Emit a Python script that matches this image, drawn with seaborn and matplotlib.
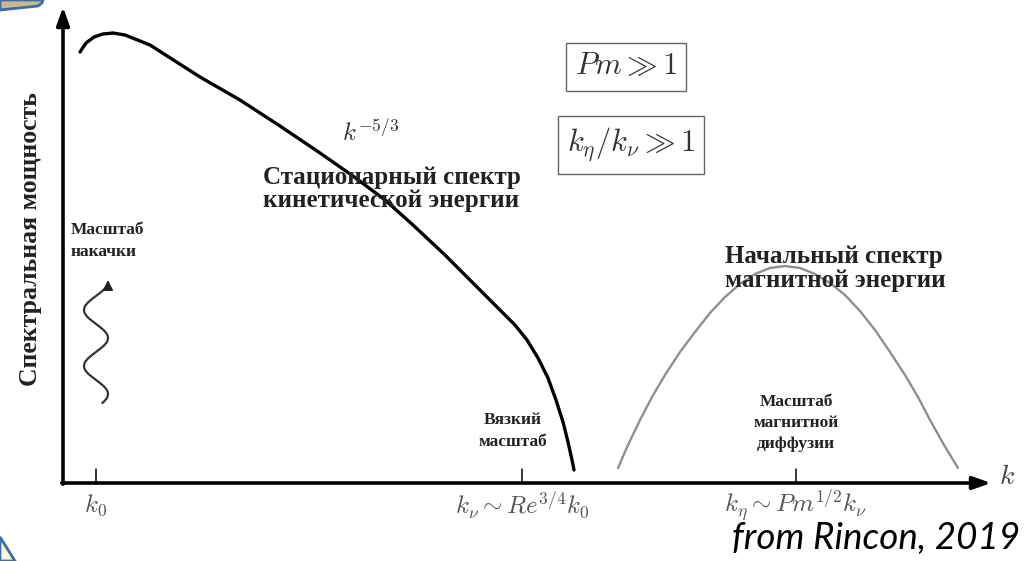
import numpy as np
import matplotlib
matplotlib.use("Agg")
import matplotlib.pyplot as plt
from matplotlib.patches import Polygon
import seaborn as sns

# Schematic spectra (k along the horizontal axis, spectral power upward)
kinetic_k = [1.7, 2.3, 3.1, 4.0, 5.0, 6.2, 8.7, 11.2, 13.7, 17.7, 21.7, 25.7,
             29.0, 32.2, 35.0, 38.2, 41.2, 43.7, 45.2, 46.4, 47.5, 48.5, 49.3,
             50.0, 50.5, 50.9, 51.1]
kinetic_power = [43.1, 44.0, 44.6, 44.9, 45.0, 44.8, 43.8, 42.2, 40.6, 38.3,
                 35.7, 33.0, 30.7, 28.3, 25.8, 22.8, 19.8, 17.3, 15.8, 14.3,
                 12.5, 10.5, 8.3, 6.1, 4.1, 2.3, 1.3]

magnetic_k = [55.5, 56.5, 57.7, 58.9, 60.2, 61.7, 63.2, 64.7, 66.2, 67.7, 69.2,
              70.7, 72.2, 73.7, 75.2, 76.7, 78.2, 79.7, 81.2, 82.7, 84.2, 85.5,
              86.7, 88.1, 89.5]
magnetic_power = [1.5, 3.8, 6.3, 8.6, 10.8, 13.1, 15.1, 17.0, 18.6, 19.9, 20.9,
                  21.5, 21.7, 21.5, 20.9, 20.0, 18.8, 17.2, 15.3, 13.1, 10.8,
                  8.6, 6.3, 3.8, 1.5]

# Characteristic wavenumbers marked on the k axis
tick_k = [3.3, 45.9, 73.3]
tick_labels = [r"$k_0$", r"$k_\nu \sim Re^{3/4}k_0$", r"$k_\eta \sim Pm^{1/2}k_\nu$"]

sns.set_theme(style="white")
plt.rcParams["font.family"] = ["Liberation Serif", "DejaVu Serif"]
plt.rcParams["mathtext.fontset"] = "cm"

fig = plt.figure(figsize=(10.24, 5.61), dpi=100)
ax = fig.add_axes([0, 0, 1, 1])
ax.set_xlim(-6.3, 96.1)
ax.set_ylim(-7.8, 48.3)
ax.axis("off")

# Axes drawn as arrows
arrow = dict(arrowstyle="-|>,head_length=0.9,head_width=0.32", lw=2.6,
             color="black", shrinkA=0, shrinkB=0)
ax.annotate("", xy=(0, 47.6), xytext=(0, -0.12), arrowprops=arrow)
ax.annotate("", xy=(92.8, 0), xytext=(-0.12, 0), arrowprops=arrow)
ax.text(93.6, 0.5, r"$k$", fontsize=20, color="#444444", ha="left", va="center")

# Spectra
sns.lineplot(x=kinetic_k, y=kinetic_power, sort=False, estimator=None,
             color="black", lw=2.4, ax=ax)
sns.lineplot(x=magnetic_k, y=magnetic_power, sort=False, estimator=None,
             color="#8f8f8f", lw=1.7, ax=ax)

# Tick marks and labels on the k axis
for k, lab in zip(tick_k, tick_labels):
    ax.plot([k, k], [0, 1.4], color="black", lw=1.1)
    ax.text(k, -2.2, lab, fontsize=18, color="#555555", ha="center", va="center")

# Forcing-scale squiggle with an arrowhead
yy = np.linspace(8.0, 19.9, 300)
xx = 3.3 - 1.2 * np.sin(np.pi * (yy - 15.9) / 2.8)
ax.plot(xx, yy, color="#333333", lw=1.6)
ax.annotate("", xy=(4.5, 20.3), xytext=(4.5, 19.6),
            arrowprops=dict(arrowstyle="-|>,head_length=0.5,head_width=0.25",
                            color="#222222", lw=1.2, shrinkA=0, shrinkB=0))

# Annotations
bold = dict(fontweight="bold", color="#222222")
ax.text(-3.2, 24.4, "Спектральная мощность", rotation=90, fontsize=18.5,
        ha="center", va="center", **bold)
ax.text(0.8, 24.2, "Масштаб\nнакачки", fontsize=12.5, ha="left", va="center",
        linespacing=1.5, **bold)
ax.text(20.0, 29.4, "Стационарный спектр\nкинетической энергии", fontsize=18,
        ha="left", va="center", linespacing=1.05, **bold)
ax.text(45.0, 5.2, "Вязкий\nмасштаб", fontsize=12.5, ha="center", va="center",
        linespacing=1.5, **bold)
ax.text(66.2, 21.45, "Начальный спектр\nмагнитной энергии", fontsize=18,
        ha="left", va="center", linespacing=1.05, **bold)
ax.text(73.3, 6.0, "Масштаб\nмагнитной\nдиффузии", fontsize=12.5, ha="center",
        va="center", linespacing=1.4, **bold)
ax.text(30.8, 35.0, r"$k^{-5/3}$", fontsize=18, color="#333333",
        ha="center", va="center")

box = dict(boxstyle="square,pad=0.3", fc="white", ec="#666666", lw=1.0)
ax.text(56.3, 41.6, r"$Pm \gg 1$", fontsize=22, color="#333333",
        ha="center", va="center", bbox=box)
ax.text(56.8, 33.8, r"$k_\eta / k_\nu \gg 1$", fontsize=22, color="#333333",
        ha="center", va="center", bbox=box)

ax.text(66.9, -5.5, "from Rincon, 2019", fontsize=26.5, style="italic",
        family=["Lato", "DejaVu Sans"], color="black", ha="left", va="center")

# Slide frame corners
fig.patches.append(Polygon([[0, 1], [0, 1 - 10 / 561], [38 / 1024, 1 - 6 / 561],
                            [42 / 1024, 1 - 3 / 561], [43 / 1024, 1]],
                           closed=True, transform=fig.transFigure,
                           fc="#c9b98b", ec="#3d6ea8", lw=2))
fig.patches.append(Polygon([[0, 1 - 537 / 561], [15 / 1024, 0], [0, 0]],
                           closed=True, transform=fig.transFigure,
                           fc="#fdf7dc", ec="#3d6ea8", lw=2))

fig.savefig("out.png", dpi=100)
